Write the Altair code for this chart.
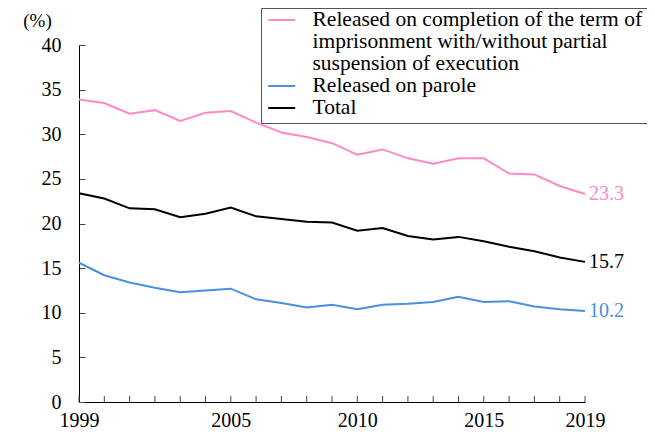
import altair as alt
import pandas as pd

years = list(range(1999, 2020))
completion = [33.9, 33.5, 32.3, 32.7, 31.5, 32.4, 32.6, 31.3, 30.2, 29.7, 29.0,
              27.7, 28.3, 27.3, 26.7, 27.3, 27.3, 25.6, 25.5, 24.2, 23.3]
parole = [15.6, 14.2, 13.4, 12.8, 12.3, 12.5, 12.7, 11.5, 11.1, 10.6, 10.9,
          10.4, 10.9, 11.0, 11.2, 11.8, 11.2, 11.3, 10.7, 10.4, 10.2]
total = [23.4, 22.8, 21.7, 21.6, 20.7, 21.1, 21.8, 20.8, 20.5, 20.2, 20.1,
         19.2, 19.5, 18.6, 18.2, 18.5, 18.0, 17.4, 16.9, 16.2, 15.7]

name_completion = "Released on completion of the term of"
# continuation lines of the first legend label (legend text only, no marks)
legend_cont1 = "imprisonment with/without partial"
legend_cont2 = "suspension of execution"
name_parole = "Released on parole"
name_total = "Total"

legend_domain = [name_completion, legend_cont1, legend_cont2, name_parole, name_total]
legend_range = ["#ff8ac4", "transparent", "transparent", "#4a8fe0", "#000000"]
x_label_years = [1999, 2005, 2010, 2015, 2019]
y_ticks = list(range(0, 41, 5))

rows = []
for name, vals in zip([name_completion, name_parole, name_total], [completion, parole, total]):
    for y, v in zip(years, vals):
        rows.append({"year": y, "value": v, "series": name})
df = pd.DataFrame(rows)
tick_df = pd.DataFrame({"year": years, "base": 0.0, "top": 0.67})

FONT = "Liberation Serif"

color_scale = alt.Scale(domain=legend_domain, range=legend_range)
x_scale = alt.Scale(domain=[1999, 2019], nice=False, zero=False)
y_scale = alt.Scale(domain=[0, 40], nice=False)

color = alt.Color(
    "series:N",
    scale=color_scale,
    sort=legend_domain,
    legend=alt.Legend(
        title=None,
        orient="none",
        legendX=182,
        legendY=-37,
        symbolType="M-1.42,0L1.42,0",
        symbolSize=361,
        symbolStrokeWidth=2,
        symbolFillColor="transparent",
        symbolOffset=6,
        labelFont=FONT,
        labelFontSize=21.5,
        labelColor="#000000",
        labelLimit=500,
        labelOffset=20,
        strokeColor="#555555",
        fillColor="#ffffff",
        padding=4,
        rowPadding=0,
        clipHeight=16,
    ),
)

x_enc = alt.X(
    "year:Q",
    scale=x_scale,
    axis=alt.Axis(
        title=None,
        values=x_label_years,
        format="d",
        grid=False,
        ticks=False,
        domainColor="#000000",
        labelFont=FONT,
        labelFontSize=20,
        labelColor="#000000",
        labelPadding=8,
        labelFlush=False,
        labelOverlap=False,
        labelBound=False,
    ),
)

y_enc = alt.Y(
    "value:Q",
    scale=y_scale,
    axis=alt.Axis(
        title="(%)",
        titleAngle=0,
        titleX=-42,
        titleY=-25,
        titleAlign="center",
        titleBaseline="middle",
        titleFont=FONT,
        titleFontSize=19,
        titleFontWeight="normal",
        titleColor="#000000",
        values=y_ticks,
        grid=False,
        tickSize=alt.ExprRef(expr="-6"),
        tickColor="#444444",
        domainColor="#000000",
        labelFont=FONT,
        labelFontSize=20,
        labelColor="#000000",
        labelPadding=24,
    ),
)

base = alt.Chart(df)

lines = base.mark_line(strokeWidth=2).encode(x=x_enc, y=y_enc, color=color)

year_ticks = alt.Chart(tick_df).mark_rule(strokeWidth=1, color="#444444").encode(
    x=alt.X("year:Q", scale=x_scale),
    y=alt.Y("base:Q", scale=y_scale),
    y2="top:Q",
)

end_labels = base.transform_filter(alt.datum.year == 2019).mark_text(
    align="left", baseline="middle", dx=4, font=FONT, fontSize=20
).encode(
    x="year:Q",
    y="value:Q",
    text=alt.Text("value:Q", format=".1f"),
    color=alt.Color("series:N", scale=color_scale, legend=None),
)

chart = alt.layer(lines, year_ticks, end_labels).properties(
    width=506,
    height=357,
    padding={"left": 71, "top": 37, "right": 62, "bottom": 30},
    autosize=alt.AutoSizeParams(type="none"),
).configure(font=FONT).configure_view(stroke=None)

chart.save("out.html", embed_options={"renderer": "svg", "actions": False})
